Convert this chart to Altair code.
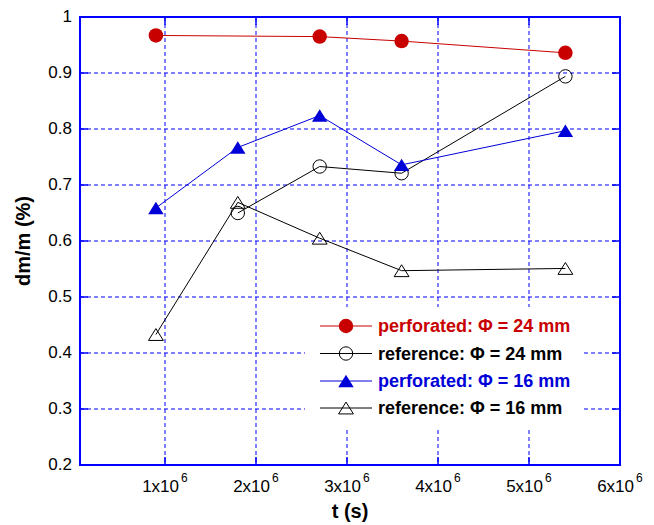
import altair as alt
import pandas as pd

# ---- data ----
t_all = [0.9e6, 1.8e6, 2.7e6, 3.6e6, 5.4e6]
perf24_t = [0.9e6, 2.7e6, 3.6e6, 5.4e6]
perf24 = [0.967, 0.965, 0.957, 0.936]
ref24_t = [1.8e6, 2.7e6, 3.6e6, 5.4e6]
ref24 = [0.650, 0.733, 0.721, 0.894]
perf16 = [0.659, 0.767, 0.824, 0.736, 0.797]
ref16 = [0.433, 0.669, 0.605, 0.547, 0.551]

labels = ["perforated: Φ = 24 mm", "reference: Φ = 24 mm",
          "perforated: Φ = 16 mm", "reference: Φ = 16 mm"]
x_ticks = [1e6, 2e6, 3e6, 4e6, 5e6, 6e6]
x_tick_base = ["1x10", "2x10", "3x10", "4x10", "5x10", "6x10"]
x_tick_exp = ["6", "6", "6", "6", "6", "6"]
y_ticks = [0.2, 0.3, 0.4, 0.5, 0.6, 0.7, 0.8, 0.9, 1.0]
x_min = 6e6 - 540 / 91 * 1e6   # left edge of the axis range

RED = "#c80000"
BLUE = "#0000d8"
BLACK = "#000000"
FRAME = "#0000ff"
GRID = "#0000ff"
TRI = "M0,-0.8L1,0.8L-1,0.8Z"
FONT = "Liberation Sans"
W, H = 540, 448

xs = alt.Scale(domain=[x_min, 6000000], nice=False, zero=False)
ys = alt.Scale(domain=[0.2, 1.0], nice=False, zero=False)

x_axis = alt.Axis(values=x_ticks, title="t (s)", labels=False)
y_axis = alt.Axis(values=y_ticks, title="dm/m (%)", format=".1~f")


def series(tv, vals, color, shape, filled, size, name):
    df = pd.DataFrame({"t": tv, "v": vals, "s": name})
    base = alt.Chart(df).encode(
        x=alt.X("t:Q", scale=xs, axis=x_axis),
        y=alt.Y("v:Q", scale=ys, axis=y_axis),
    )
    line = base.mark_line(color=color, strokeWidth=1)
    pts = base.mark_point(shape=shape, filled=filled, color=color,
                          size=size, strokeWidth=1, opacity=1)
    return line + pts


layers = [
    series(perf24_t, perf24, RED, "circle", True, 210, labels[0]),
    series(ref24_t, ref24, BLACK, "circle", False, 180, labels[1]),
    series(t_all, perf16, BLUE, TRI, True, 240, labels[2]),
    series(t_all, ref16, BLACK, TRI, False, 220, labels[3]),
]

# ---- inward ticks (as in the original) ----
xt = pd.DataFrame({"t": x_ticks, "base": x_tick_base, "exp": x_tick_exp})
yt = pd.DataFrame({"v": y_ticks})
tick_layers = [
    alt.Chart(xt).mark_rule(color=FRAME, strokeWidth=1.5).encode(
        x=alt.X("t:Q", scale=xs), y=alt.value(H), y2=alt.value(H - 8)),
    alt.Chart(xt).mark_rule(color=FRAME, strokeWidth=1.5).encode(
        x=alt.X("t:Q", scale=xs), y=alt.value(0), y2=alt.value(8)),
    alt.Chart(yt).mark_rule(color=FRAME, strokeWidth=1.5).encode(
        y=alt.Y("v:Q", scale=ys), x=alt.value(0), x2=alt.value(8)),
    alt.Chart(yt).mark_rule(color=FRAME, strokeWidth=1.5).encode(
        y=alt.Y("v:Q", scale=ys), x=alt.value(W), x2=alt.value(W - 8)),
    # x tick labels with superscript exponent
    alt.Chart(xt).mark_text(align="right", baseline="alphabetic", font=FONT,
                            fontSize=17, color="black", dx=14).encode(
        x=alt.X("t:Q", scale=xs), y=alt.value(H + 26.7), text="base:N"),
    alt.Chart(xt).mark_text(align="left", baseline="alphabetic", font=FONT,
                            fontSize=12, color="black", dx=16).encode(
        x=alt.X("t:Q", scale=xs), y=alt.value(H + 16.7), text="exp:N"),
]

# ---- legend box drawn inside the plot ----
one = pd.DataFrame({"k": [0]})
legend_layers = [
    alt.Chart(one).mark_rect(color="white").encode(
        x=alt.value(225), x2=alt.value(503), y=alt.value(290), y2=alt.value(410))
]
spec = [
    (RED, "circle", True, 210, RED),
    (BLACK, "circle", False, 180, BLACK),
    (BLUE, TRI, True, 240, BLUE),
    (BLACK, TRI, False, 220, BLACK),
]
row_y = [309, 336.5, 364, 391]
for lab, (c, shp, fil, sz, tc), ry in zip(labels, spec, row_y):
    d = pd.DataFrame({"label": [lab]})
    legend_layers.append(alt.Chart(d).mark_rule(color=c, strokeWidth=1).encode(
        x=alt.value(240), x2=alt.value(292), y=alt.value(ry)))
    legend_layers.append(alt.Chart(d).mark_point(
        shape=shp, filled=fil, color=c, size=sz, strokeWidth=1, opacity=1).encode(
        x=alt.value(266), y=alt.value(ry)))
    legend_layers.append(alt.Chart(d).mark_text(
        align="left", baseline="middle", font=FONT, fontSize=18,
        fontWeight="bold", color=tc).encode(
        x=alt.value(298), y=alt.value(ry + 1), text="label:N"))

chart = alt.layer(*layers, *tick_layers, *legend_layers).properties(
    width=W, height=H,
    autosize=alt.AutoSizeParams(type="none"),
    padding={"left": 72, "top": 9, "right": 26, "bottom": 63},
    background="white",
).configure_view(
    stroke=FRAME, strokeWidth=2
).configure_axis(
    domainColor=FRAME, domainWidth=2, translate=0,
    grid=True, gridColor=GRID, gridDash=[4, 3], gridWidth=1, gridOpacity=1,
    ticks=False, labelPadding=8,
    labelFont=FONT, labelFontSize=17, labelColor="black",
    titleFont=FONT, titleFontSize=20, titleFontWeight="bold", titleColor="black",
).configure_axisX(
    titlePadding=37
).configure_axisY(
    titlePadding=14
)

chart.save("out.html", embed_options={"renderer": "svg", "actions": False})
